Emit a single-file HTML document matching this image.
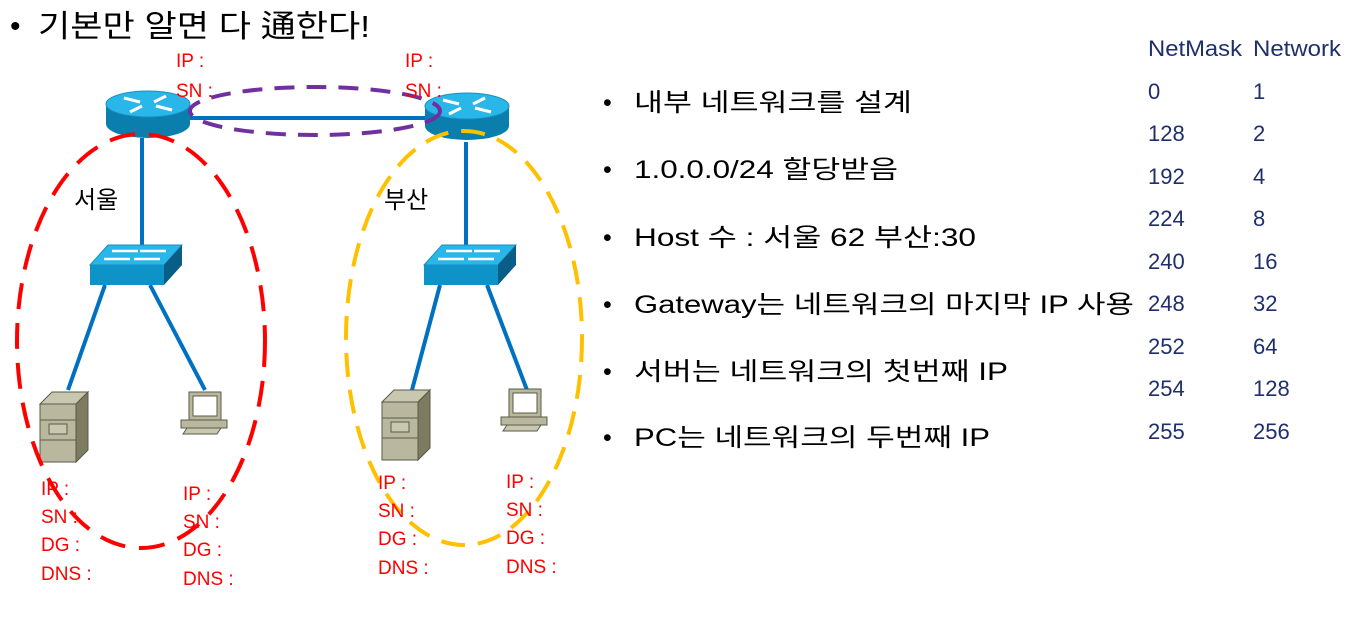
<!DOCTYPE html>
<html><head><meta charset="utf-8"><style>
html,body{margin:0;padding:0;background:#fff;}
svg{display:block;}
.k{font-family:"Liberation Sans","Noto Sans CJK KR",sans-serif;}
.r{font-family:"Liberation Sans","Noto Sans CJK KR",sans-serif;fill:#ff0000;font-size:19px;}
.t{font-family:"Liberation Sans",sans-serif;fill:#1f2f6b;font-size:22px;}
</style></head><body>
<svg width="1346" height="621" viewBox="0 0 1346 621" xmlns="http://www.w3.org/2000/svg">
<defs>
<g id="router">
  <path d="M0,14 L0,34 A42,14 0 0 0 84,34 L84,14 Z" fill="#0a7fae"/>
  <ellipse cx="42" cy="14" rx="42" ry="13" fill="#29b6e8" stroke="#1a8fc0"/>
  <g stroke="#fff" stroke-width="3" fill="#fff">
    <line x1="18" y1="8" x2="34" y2="12"/><line x1="66" y1="20" x2="50" y2="16"/>
    <line x1="60" y1="6" x2="48" y2="12"/><line x1="24" y1="22" x2="36" y2="16"/>
  </g>
</g>
<g id="switch">
  <polygon points="0,20 18,0 92,0 74,20" fill="#29b6e8" stroke="#1a8fc0"/>
  <polygon points="0,20 74,20 74,40 0,40" fill="#0e93c8"/>
  <polygon points="74,20 92,0 92,20 74,40" fill="#085e86"/>
  <g stroke="#fff" stroke-width="2.5">
    <line x1="22" y1="6" x2="48" y2="6"/><line x1="50" y1="6" x2="76" y2="6"/>
    <line x1="14" y1="14" x2="40" y2="14"/><line x1="44" y1="14" x2="70" y2="14"/>
  </g>
</g>
<g id="server">
  <polygon points="0,12 12,0 48,0 36,12" fill="#c8c7b0" stroke="#5a5a48"/>
  <rect x="0" y="12" width="36" height="58" fill="#b9b89e" stroke="#5a5a48"/>
  <polygon points="36,12 48,0 48,58 36,70" fill="#7d7b60" stroke="#5a5a48"/>
  <line x1="0" y1="28" x2="36" y2="28" stroke="#5a5a48"/>
  <line x1="0" y1="48" x2="36" y2="48" stroke="#5a5a48"/>
  <rect x="9" y="32" width="18" height="10" fill="#c8c7b0" stroke="#5a5a48"/>
</g>
<g id="pc">
  <rect x="8" y="0" width="32" height="28" fill="#b9b89e" stroke="#5a5a48"/>
  <rect x="12" y="4" width="24" height="20" fill="#fff" stroke="#5a5a48"/>
  <rect x="0" y="28" width="46" height="8" fill="#b9b89e" stroke="#5a5a48"/>
  <polygon points="2,42 6,36 40,36 36,42" fill="#c8c7b0" stroke="#5a5a48"/>
</g>
</defs>

<text x="10" y="36" class="k" font-size="30" fill="#000">•</text>
<text x="38" y="37" class="k" font-size="31" fill="#000" textLength="332" lengthAdjust="spacingAndGlyphs">기본만 알면 다 通한다!</text>

<g stroke="#0070c0" stroke-width="4">
  <line x1="190" y1="118" x2="425" y2="118"/>
  <line x1="142" y1="138" x2="142" y2="247"/>
  <line x1="466" y1="142" x2="466" y2="247"/>
  <line x1="105" y1="285" x2="68" y2="390"/>
  <line x1="150" y1="285" x2="205" y2="390"/>
  <line x1="440" y1="285" x2="412" y2="390"/>
  <line x1="487" y1="285" x2="527" y2="390"/>
</g>

<use href="#router" x="106" y="90"/>
<use href="#router" x="425" y="92"/>
<use href="#switch" x="90" y="245"/>
<use href="#switch" x="424" y="245"/>
<use href="#server" x="40" y="392"/>
<use href="#pc" x="181" y="392"/>
<use href="#server" x="382" y="390"/>
<use href="#pc" x="501" y="389"/>

<ellipse cx="315" cy="111" rx="125" ry="24" fill="none" stroke="#7030a0" stroke-width="4" stroke-dasharray="20,12"/>
<ellipse cx="141" cy="341" rx="124" ry="207" fill="none" stroke="#ff0000" stroke-width="4" stroke-dasharray="26,14"/>
<ellipse cx="464" cy="338" rx="118" ry="207" fill="none" stroke="#ffc000" stroke-width="4" stroke-dasharray="24,13"/>

<text x="74" y="208" class="k" font-size="24" fill="#000">서울</text>
<text x="384" y="208" class="k" font-size="24" fill="#000">부산</text>

<g class="r">
<text x="176" y="67">IP :</text><text x="176" y="97">SN :</text>
<text x="405" y="67">IP :</text><text x="405" y="97">SN :</text>
<text x="41" y="495">IP :</text><text x="41" y="523">SN :</text><text x="41" y="551">DG :</text><text x="41" y="580">DNS :</text>
<text x="183" y="500">IP :</text><text x="183" y="528">SN :</text><text x="183" y="556">DG :</text><text x="183" y="585">DNS :</text>
<text x="378" y="489">IP :</text><text x="378" y="517">SN :</text><text x="378" y="545">DG :</text><text x="378" y="574">DNS :</text>
<text x="506" y="488">IP :</text><text x="506" y="516">SN :</text><text x="506" y="544">DG :</text><text x="506" y="573">DNS :</text>
</g>

<g class="k" font-size="25" fill="#000">
<text x="603" y="111">•</text><text x="634" y="111" textLength="278" lengthAdjust="spacingAndGlyphs">내부 네트워크를 설계</text>
<text x="603" y="178">•</text><text x="634" y="178" textLength="264" lengthAdjust="spacingAndGlyphs">1.0.0.0/24 할당받음</text>
<text x="603" y="246">•</text><text x="634" y="246" textLength="342" lengthAdjust="spacingAndGlyphs">Host 수 : 서울 62 부산:30</text>
<text x="603" y="313">•</text><text x="634" y="313" textLength="500" lengthAdjust="spacingAndGlyphs">Gateway는 네트워크의 마지막 IP 사용</text>
<text x="603" y="380">•</text><text x="634" y="380" textLength="374" lengthAdjust="spacingAndGlyphs">서버는 네트워크의 첫번째 IP</text>
<text x="603" y="446">•</text><text x="634" y="446" textLength="356" lengthAdjust="spacingAndGlyphs">PC는 네트워크의 두번째 IP</text>
</g>

<g class="t">
<text x="1148" y="56" textLength="94" lengthAdjust="spacingAndGlyphs">NetMask</text><text x="1253" y="56" textLength="88" lengthAdjust="spacingAndGlyphs">Network</text>
<text x="1148" y="99">0</text><text x="1253" y="99">1</text>
<text x="1148" y="141">128</text><text x="1253" y="141">2</text>
<text x="1148" y="184">192</text><text x="1253" y="184">4</text>
<text x="1148" y="226">224</text><text x="1253" y="226">8</text>
<text x="1148" y="269">240</text><text x="1253" y="269">16</text>
<text x="1148" y="311">248</text><text x="1253" y="311">32</text>
<text x="1148" y="354">252</text><text x="1253" y="354">64</text>
<text x="1148" y="396">254</text><text x="1253" y="396">128</text>
<text x="1148" y="439">255</text><text x="1253" y="439">256</text>
</g>
</svg>
</body></html>
